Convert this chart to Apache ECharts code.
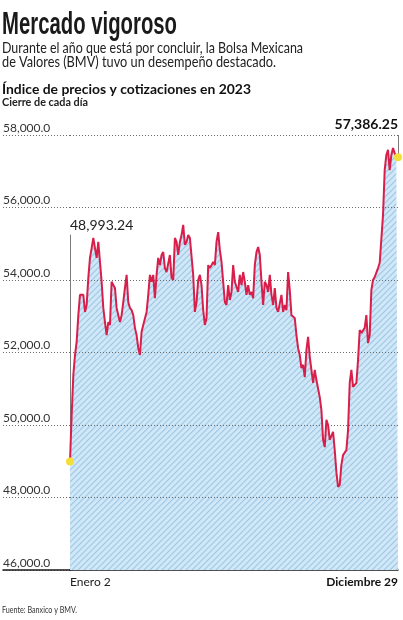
<!DOCTYPE html>
<html><head><meta charset="utf-8">
<script src="https://cdn.jsdelivr.net/npm/echarts@6/dist/echarts.min.js"></script>
<style>html,body{margin:0;padding:0;background:#fff}#c{width:403px;height:620px}</style>
</head><body><div id="c"></div>
<script>
// ---- data ----
const yTicks = [46000, 48000, 50000, 52000, 54000, 56000, 58000];
const xEndLabels = ['Enero 2', 'Diciembre 29'];
const firstClose = 48993.24;
const lastClose = 57386.25;
const closes = [
  48993.24, 50280, 51380, 51930, 52290, 53030, 53590, 53640, 53590, 53120,
  53310, 54060, 54610, 54880, 55160, 54880, 54610, 55050, 54500, 53950,
  53230, 52840, 52480, 52840, 52760, 53950, 53860, 53780, 53230, 53030,
  52840, 53030, 53390, 53780, 54140, 53390, 53230, 53170, 53030, 52680,
  52480, 52120, 51930, 52570, 52760, 52810, 53120, 53590, 54140, 53950,
  54140, 53500, 54140, 54610, 54410, 54690, 54770, 54330, 54220, 54190,
  54690, 54060, 54000, 55160, 55050, 54690, 55050, 55240, 55520, 54970,
  55050, 55240, 55160, 55210, 54140, 53120, 53390, 54000, 54140, 53860,
  53170, 52760, 52950, 54410, 54330, 54410, 54500, 54410, 55050, 55320,
  54830, 54500, 53950, 53390, 53310, 53860, 53450, 53670, 54410, 53950,
  54000, 53670, 54140, 53860, 54220, 53950, 53590, 53860, 53590, 53670,
  53500, 54410, 54770, 54910, 54690, 53950, 53310, 53950, 53860, 53670,
  54140, 53590, 53310, 53780, 53230, 53120, 53120, 53590, 53120, 53310,
  53170, 54220, 53720, 53030, 53010, 52950, 52480, 52120, 51930, 51570,
  51660, 51320, 52070, 52430, 51880, 51520, 51160, 51520, 51240, 51190,
  50770, 50410, 49590, 49390, 50140, 50000, 49590, 49590, 49810, 49310,
  48700, 48290, 48350, 48900, 49170, 49170, 49310, 49860, 51160, 51520,
  51050, 51100, 51160, 51790, 52620, 52540, 52540, 52680, 53030, 52260,
  52480, 53720, 54000, 54080, 54110, 54330, 54470, 54500, 55790, 57030,
  57450, 57590, 57030, 57450, 57640, 57500, 57390, 57386.25
];

// ---- helpers ----
const n = closes.length;
const cats = closes.map((_, i) => String(i));
const fmt1 = v => v.toLocaleString('en-US', {minimumFractionDigits: 1, maximumFractionDigits: 1});
const fmt2 = v => v.toLocaleString('en-US', {minimumFractionDigits: 2, maximumFractionDigits: 2});
const FONT = 'Lato, "Open Sans", sans-serif';

function hatch() {
  const s = 6;
  const c = document.createElement('canvas'); c.width = s; c.height = s;
  const g = c.getContext('2d');
  g.fillStyle = '#d0e7f7'; g.fillRect(0, 0, s, s);
  g.strokeStyle = '#9fc8e5'; g.lineWidth = 1.2;
  g.beginPath();
  g.moveTo(-1, s + 1); g.lineTo(s + 1, -1);
  g.moveTo(-1, 1); g.lineTo(1, -1);
  g.moveTo(s - 1, s + 1); g.lineTo(s + 1, s - 1);
  g.stroke();
  return c;
}
const mctx = document.createElement('canvas').getContext('2d');
function fitText(text, font, x, y, width, color) {
  mctx.font = font;
  const w = mctx.measureText(text).width;
  return {type: 'text', x: x, y: y, scaleX: width / w, originX: 0, originY: 0,
    style: {text: text, font: font, fill: color, align: 'left', verticalAlign: 'middle'}};
}

const chart = echarts.init(document.getElementById('c'));
const gridStyle = {type: [1, 2], color: '#6b6b6b', width: 1};
const yMax = yTicks[yTicks.length - 1];
chart.setOption({
  animation: false,
  grid: [
    {left: 70, right: 5, top: 135, bottom: 50},
    {left: 2, width: 68, top: 135, bottom: 50}
  ],
  xAxis: [
    {type: 'category', gridIndex: 0, data: cats, boundaryGap: false,
     axisLine: {lineStyle: {color: '#1a1a1a', width: 1.5}}, axisTick: {show: false},
     axisLabel: {
       interval: (i) => i === 0 || i === n - 1,
       formatter: (v, i) => i === 0 ? xEndLabels[0] : '{b|' + xEndLabels[1] + '}',
       alignMinLabel: 'left', alignMaxLabel: 'right',
       color: '#222', fontFamily: FONT, fontSize: 12, margin: 6,
       rich: {b: {fontWeight: 'bold', fontFamily: FONT, fontSize: 12, color: '#111'}}
     },
     splitLine: {show: false}},
    {type: 'value', gridIndex: 1, min: 0, max: 1,
     axisLine: {lineStyle: {color: '#1a1a1a', width: 1.5}}, axisTick: {show: false},
     axisLabel: {show: false}, splitLine: {show: false}}
  ],
  yAxis: [
    {type: 'value', gridIndex: 0, min: yTicks[0], max: yMax, interval: 2000,
     axisLine: {show: false}, axisTick: {show: false}, axisLabel: {show: false},
     splitLine: {show: false}},
    {type: 'value', gridIndex: 1, min: yTicks[0], max: yMax, interval: 2000,
     axisLine: {show: false}, axisTick: {show: false},
     axisLabel: {inside: true, verticalAlign: 'bottom', formatter: fmt1, color: '#333',
       fontFamily: FONT, fontSize: 12, margin: 0, padding: [0, 0, 1, 0]},
     splitLine: {show: true, lineStyle: gridStyle}}
  ],
  series: [
    {type: 'line', xAxisIndex: 0, yAxisIndex: 0, data: closes, z: 1,
     symbol: 'none', lineStyle: {width: 0}, silent: true,
     areaStyle: {color: {image: hatch(), repeat: 'repeat'}, opacity: 1, origin: 'start'},
     markLine: {z: 1.5, silent: true, symbol: 'none', label: {show: false},
       lineStyle: gridStyle,
       data: yTicks.filter(v => v > yTicks[0]).map(v => ({yAxis: v}))}},
    {type: 'line', xAxisIndex: 0, yAxisIndex: 0, data: closes, z: 3,
     symbol: 'none', lineStyle: {color: '#d81f4b', width: 2}, clip: false,
     markLine: {z: 1.8, silent: true, symbol: 'none',
       lineStyle: {color: '#7a7a7a', width: 1, type: 'solid'},
       data: [
         [{coord: [cats[0], firstClose]},
          {coord: [cats[0], 55250], label: {show: true, position: 'end', distance: 2,
            formatter: () => fmt2(firstClose), align: 'left',
            fontFamily: FONT, fontSize: 14, color: '#222'}}],
         [{coord: [cats[n - 1], lastClose]},
          {coord: [cats[n - 1], yMax], label: {show: true, position: 'end', distance: 4,
            formatter: () => fmt2(lastClose), align: 'right',
            fontFamily: FONT, fontSize: 14, fontWeight: 'bold', color: '#111'}}]
       ]},
     markPoint: {z: 6, silent: true, symbol: 'circle', symbolSize: 8,
       itemStyle: {color: '#f4df3a'}, label: {show: false},
       data: [{coord: [cats[0], firstClose]}, {coord: [cats[n - 1], lastClose]}]}}
  ],
  graphic: [
    fitText('Mercado vigoroso', 'bold 32px "Liberation Sans", Arial, sans-serif', 2, 25, 175, '#1a1a1a'),
    fitText('Durante el año que está por concluir, la Bolsa Mexicana', '15px ' + FONT, 2, 48, 301, '#222'),
    fitText('de Valores (BMV) tuvo un desempeño destacado.', '15px ' + FONT, 2, 62, 274, '#222'),
    fitText('Índice de precios y cotizaciones en 2023', 'bold 14px ' + FONT, 2, 89, 249, '#111'),
    fitText('Cierre de cada día', 'bold 11px ' + FONT, 2, 102, 86, '#222'),
    fitText('Fuente: Banxico y BMV.', '9px ' + FONT, 2, 610, 75, '#333')
  ]
});
</script>
</body></html>
